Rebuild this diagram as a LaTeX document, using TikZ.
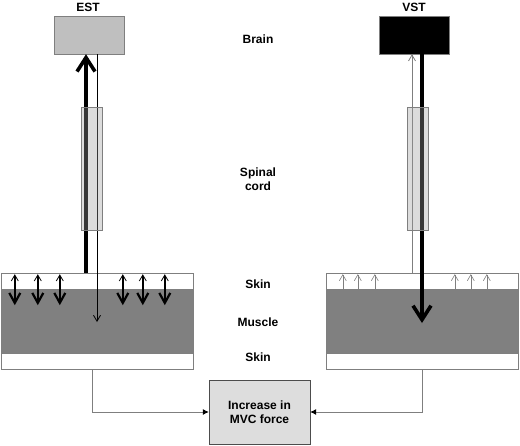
\documentclass[tikz,border=0pt]{standalone}
\usepackage{fontspec}
\setmainfont{Liberation Sans}
\usetikzlibrary{positioning,arrows.meta}
\definecolor{brainlite}{HTML}{BFBFBF}
\definecolor{musclegray}{HTML}{808080}
\definecolor{edgegray}{HTML}{7F7F7F}
\definecolor{cordgray}{HTML}{9B9B9B}
\definecolor{incrgray}{HTML}{DDDDDD}
\begin{document}
\begin{tikzpicture}
                [x=1pt,y=-1pt,font=\fontsize{12}{14}\selectfont\bfseries,
                brain/.style={draw=edgegray,minimum width=70pt,minimum height=38pt,inner sep=0pt},
                cord/.style={draw=edgegray,fill=cordgray,fill opacity=0.35,minimum width=21pt,minimum height=123pt,inner sep=0pt},
                skin/.style={draw=edgegray,fill=white,minimum width=192pt,minimum height=16pt,inner sep=0pt},
                muscle/.style={draw=edgegray,fill=musclegray,minimum width=192pt,minimum height=64pt,inner sep=0pt},
                lbl/.style={align=center,inner sep=0pt},
                conn/.style={draw=edgegray,line width=0.8pt,-{Latex[black,length=6pt,width=6pt]}},
                big/.style={line width=3.6pt,-{Straight Barb[length=14pt,width=18pt]}},
                small/.style={line width=0.8pt,-{Straight Barb[length=6pt,width=7pt]}},
                mid/.style={line width=2.2pt,-{Straight Barb[length=10pt,width=11pt]}}]
                \useasboundingbox (0,0) rectangle (520,445);
                % brains
                \node[brain,fill=brainlite] (estbrain) at (89,35){};
                \node[brain,fill=black] (vstbrain) at (414,35){};
                \node[lbl] (esttext) at (88,7){EST};
                \node[lbl] (vsttext) at (414,7){VST};
                \node[lbl] (braintext) at (258,39){Brain};
                % tissue, left and right
                \node[skin] (lskint) at (97,281){};
                \node[muscle] (lmuscle) at (97,321){};
                \node[skin] (lskinb) at (97,361){};
                \node[skin] (rskint) at (422,281){};
                \node[muscle] (rmuscle) at (422,321){};
                \node[skin] (rskinb) at (422,361){};
                \node[lbl] (skintext) at (258,284){Skin};
                \node[lbl] (muscletext) at (258,322){Muscle};
                \node[lbl] (skinbtext) at (258,357){Skin};
                \node[lbl] (cordtext) at (258,179){Spinal\\cord};
                % pathways
                \draw[big] ([xshift=-11]lskint.north) -- ([xshift=-3]estbrain.south);
                \draw[small] ([xshift=8]estbrain.south) -- ([yshift=-1]lmuscle.center);
                \draw[small,draw=edgegray] ([xshift=-10]rskint.north) -- ([xshift=-2]vstbrain.south);
                \draw[big] ([xshift=8]vstbrain.south) -- ([yshift=-2]rmuscle.center);
                \foreach \dx in {14,37,59,122,142,164}{
                    \draw[small] ([xshift=\dx]lskint.south west) -- ([xshift=\dx,yshift=15]lskint.south west);
                    \draw[mid] ([xshift=\dx,yshift=13]lskint.south west) -- ([xshift=\dx,yshift=-16]lskint.south west);
                }
                \foreach \dx in {17,32,49,129,145,161}
                    \draw[small,line width=0.6pt,draw=edgegray] ([xshift=\dx]rskint.south west) -- ([xshift=\dx,yshift=15]rskint.south west);
                % spinal cords on top
                \node[cord] (estcord) at (91.5,168.5){};
                \node[cord] (vstcord) at (417.5,168.5){};
                % result
                \node[draw=black!70,fill=incrgray,minimum width=101pt,minimum height=64pt,align=center] (incr) at (259.5,412){Increase in\\MVC force};
                \draw[conn] ([xshift=-5]lskinb.south) |- (incr.west);
                \draw[conn] (rskinb.south) |- (incr.east);
            \end{tikzpicture}
\end{document}
